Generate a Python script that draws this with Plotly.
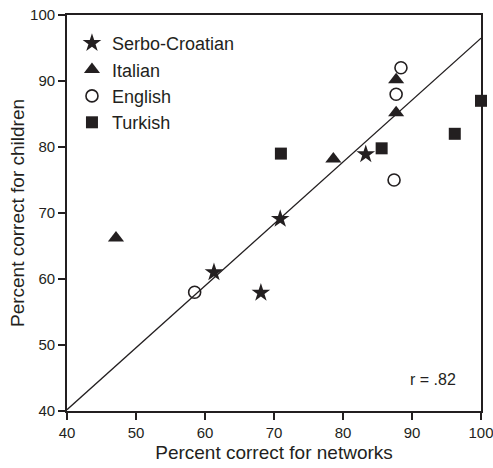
import plotly.graph_objects as go

# Data (network % correct vs children % correct)
serbo_x = [61.3, 70.9, 68.1, 83.3]
serbo_y = [61.0, 69.1, 57.9, 78.9]
italian_x = [47.1, 78.6, 87.7, 87.7]
italian_y = [66.2, 78.2, 85.2, 90.2]
english_x = [58.5, 87.4, 87.7, 88.4]
english_y = [58.0, 75.0, 88.0, 92.0]
turkish_x = [71.0, 85.6, 96.2, 100.0]
turkish_y = [79.0, 79.8, 82.0, 87.0]
fit_x = [40, 100]
fit_y = [40.2, 96.5]
ticks = [40, 50, 60, 70, 80, 90, 100]

ink = "#231f20"
font = "Liberation Sans, Arial, sans-serif"

fig = go.Figure()
fig.add_trace(go.Scatter(x=fit_x, y=fit_y, mode="lines", line=dict(color=ink, width=1.2),
                         showlegend=False, hoverinfo="skip", cliponaxis=True))
fig.add_trace(go.Scatter(x=serbo_x, y=serbo_y, mode="markers", name="Serbo-Croatian",
                         marker=dict(symbol="star", size=14, color=ink, line=dict(width=0)),
                         cliponaxis=False))
fig.add_trace(go.Scatter(x=italian_x, y=italian_y, mode="markers", name="Italian",
                         marker=dict(symbol="triangle-up", size=14, color=ink, line=dict(width=0)),
                         cliponaxis=False))
fig.add_trace(go.Scatter(x=english_x, y=english_y, mode="markers", name="English",
                         marker=dict(symbol="circle-open", size=12, color=ink, line=dict(width=1.6, color=ink)),
                         cliponaxis=False))
fig.add_trace(go.Scatter(x=turkish_x, y=turkish_y, mode="markers", name="Turkish",
                         marker=dict(symbol="square", size=12, color=ink, line=dict(width=0)),
                         cliponaxis=False))

axis_common = dict(
    range=[40, 100], tickvals=ticks, ticks="outside", ticklen=7, tickwidth=1.5,
    tickcolor=ink, showline=True, linecolor=ink, linewidth=1.8, mirror=True,
    showgrid=False, zeroline=False, tickfont=dict(size=15, color=ink, family=font),
    automargin=False, ticklabeloverflow="allow",
)

fig.update_layout(
    width=493, height=468,
    margin=dict(l=67, r=12, t=15, b=57),
    paper_bgcolor="white", plot_bgcolor="white",
    font=dict(family=font, color=ink, size=18),
    xaxis=dict(**axis_common, title=dict(text="Percent correct for networks",
                                         font=dict(size=19, color=ink, family=font), standoff=6)),
    yaxis=dict(**axis_common, title=dict(text="Percent correct for children",
                                         font=dict(size=19, color=ink, family=font), standoff=0)),
    legend=dict(x=0.012, y=0.975, xanchor="left", yanchor="top", bgcolor="rgba(0,0,0,0)",
                font=dict(size=18, color=ink, family=font), itemwidth=30, tracegroupgap=0),
    annotations=[dict(x=96.7, y=44.7, xref="x", yref="y", text="r = .82", showarrow=False,
                      xanchor="right", yanchor="middle", font=dict(size=16, color=ink, family=font))],
)

fig.write_html("out.html", config={"displayModeBar": False},
               post_script="document.body.style.margin='0';")
